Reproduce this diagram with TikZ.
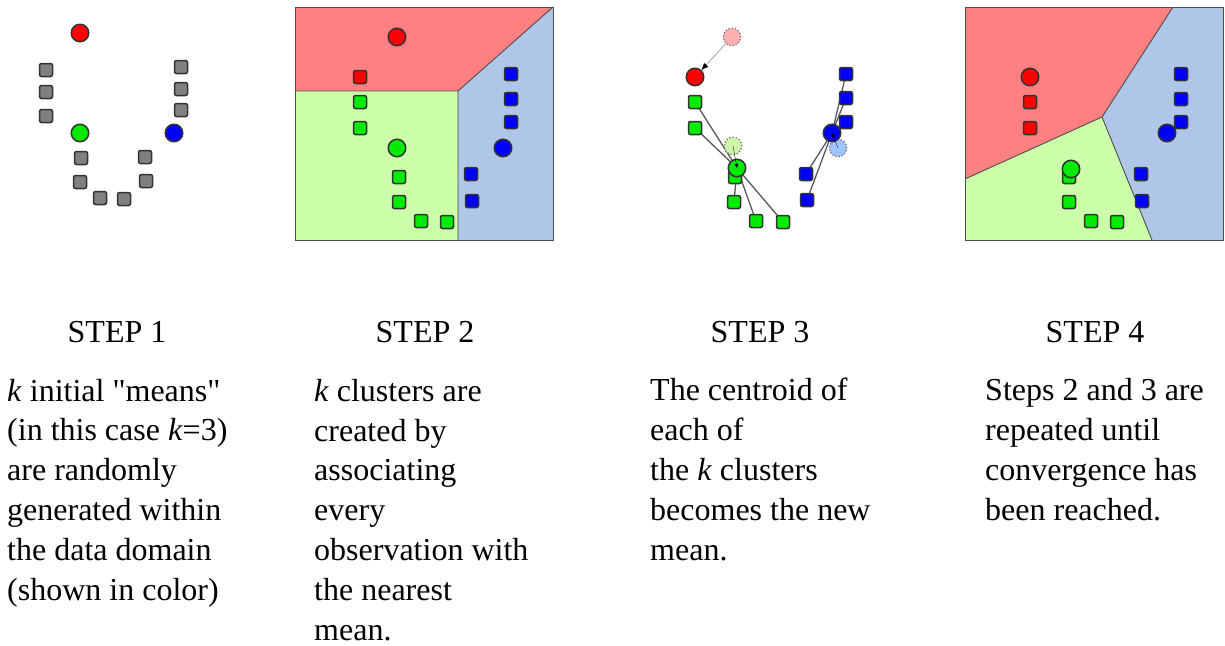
\documentclass[tikz,border=0pt]{standalone}
\usepackage{fontspec}
\setmainfont{Liberation Serif}
\usetikzlibrary{arrows.meta}
\pgfdeclarelayer{background}
\pgfsetlayers{background,main}
\definecolor{ptred}{RGB}{255,0,0}
\definecolor{ptgreen}{RGB}{0,235,0}
\definecolor{ptblue}{RGB}{0,0,255}
\definecolor{ptgray}{RGB}{128,128,128}
\definecolor{oldred}{RGB}{255,176,176}
\definecolor{oldgreen}{RGB}{204,245,170}
\definecolor{oldblue}{RGB}{160,196,255}
\definecolor{regred}{RGB}{255,128,128}
\definecolor{reggreen}{RGB}{204,255,170}
\definecolor{regblue}{RGB}{176,198,232}
\begin{document}
\begin{tikzpicture}[x=1pt,y=-1pt,
    obs/.style={draw=black!80,line width=1.5pt,rounded corners=2pt,minimum size=13pt,inner sep=0pt},
    mean/.style={circle,draw=black!80,line width=1.5pt,minimum size=17.5pt,inner sep=0pt},
    oldmean/.style={mean,draw=black!60,line width=1.2pt,dotted},
    link/.style={draw=black!65,line width=1.3pt},
    region/.style={draw=black!70,line width=0.9pt},
    caption/.style={font=\fontsize{32}{39.8}\selectfont,inner sep=0pt},
    body/.style={caption,align=left,anchor=base west}]
  \useasboundingbox (0,0) rectangle (1225,645);

  % step 1: data points and random means
  \foreach \x/\y [count=\i] in {46/70,46/92,46/116,181/67,181/89,181/110,
      81/158,80/182,100/198,124/199,145/157,146/181}
    \node[obs,fill=ptgray] (a\i) at (\x,\y) {};
  \node[mean,fill=ptred] (ar) at (80,33) {};
  \node[mean,fill=ptgreen] (ag) at (80,133) {};
  \node[mean,fill=ptblue] (ab) at (174,133) {};

  % step 2: first partition
  \fill[regred] (295,7) -- (553,7) -- (458,91) -- (295,91) -- cycle;
  \fill[reggreen] (295,91) -- (458,91) -- (458,240) -- (295,240) -- cycle;
  \fill[regblue] (458,91) -- (553,7) -- (553,240) -- (458,240) -- cycle;
  \draw[region] (295,91) -- (458,91) -- (553,7) (458,91) -- (458,240);
  \draw[region] (295,7) rectangle (553,240);
  \node[obs,fill=ptred] (br1) at (360,77) {};
  \foreach \x/\y [count=\i] in {360/102,360/128,399/177,399/202,421/221,447/222}
    \node[obs,fill=ptgreen] (bg\i) at (\x,\y) {};
  \foreach \x/\y [count=\i] in {511/74,511/99,511/122,471/174,472/201}
    \node[obs,fill=ptblue] (bb\i) at (\x,\y) {};
  \node[mean,fill=ptred] (br) at (397,37) {};
  \node[mean,fill=ptgreen] (bg) at (397,148) {};
  \node[mean,fill=ptblue] (bb) at (503,148) {};

  % step 3: means move to the centroids
  \node[oldmean,fill=oldred] (cr0) at (732,37) {};
  \node[oldmean,fill=oldgreen] (cg0) at (733,146) {};
  \node[oldmean,fill=oldblue] (cb0) at (838,148) {};
  \foreach \x/\y [count=\i] in {695/102,695/128,735/177,734/202,756/221,783/222}
    \node[obs,fill=ptgreen] (cg\i) at (\x,\y) {};
  \foreach \x/\y [count=\i] in {846/74,846/98,846/122,806/174,807/200}
    \node[obs,fill=ptblue] (cb\i) at (\x,\y) {};
  \node[mean,fill=ptred] (cr) at (695,77) {};
  \node[mean,fill=ptgreen] (cg) at (737,168) {};
  \node[mean,fill=ptblue] (cb) at (832,133) {};
  \begin{pgfonlayer}{background}
    \foreach \i in {1,...,6}
      \draw[link] (cg.center) -- (cg\i.center);
    \foreach \i in {1,...,5}
      \draw[link] (cb.center) -- (cb\i.center);
  \end{pgfonlayer}
  \draw[black!40,line width=0.7pt,-{Latex[black,length=7pt,width=6pt]}] (cr0) -- (cr);
  \draw[-{Latex[black,length=4pt,width=4pt]},line width=0.3pt] (cg0.center) -- (cg.center);
  \draw[-{Latex[black,length=4pt,width=4pt]},line width=0.3pt] (cb0.center) -- (cb.center);

  % step 4: converged partition
  \fill[regred] (965,7) -- (1173,7) -- (1102,117) -- (965,179) -- cycle;
  \fill[regblue] (1173,7) -- (1223,7) -- (1223,240) -- (1152,240) -- (1102,117) -- cycle;
  \fill[reggreen] (965,179) -- (1102,117) -- (1152,240) -- (965,240) -- cycle;
  \draw[region] (1173,7) -- (1102,117) -- (965,179) (1102,117) -- (1152,240);
  \draw[region] (965,7) rectangle (1223,240);
  \foreach \x/\y [count=\i] in {1030/102,1030/128}
    \node[obs,fill=ptred] (dr\i) at (\x,\y) {};
  \foreach \x/\y [count=\i] in {1069/177,1069/202,1091/221,1117/222}
    \node[obs,fill=ptgreen] (dg\i) at (\x,\y) {};
  \foreach \x/\y [count=\i] in {1181/74,1181/99,1181/122,1141/174,1142/201}
    \node[obs,fill=ptblue] (db\i) at (\x,\y) {};
  \node[mean,fill=ptred] (dr) at (1030,77) {};
  \node[mean,fill=ptgreen] (dg) at (1071,169) {};
  \node[mean,fill=ptblue] (db) at (1167,133) {};

  % captions (base anchor sits on the last line)
  \node[caption,anchor=base] (s1) at (117,342) {STEP 1};
  \node[caption,anchor=base] (s2) at (425,342) {STEP 2};
  \node[caption,anchor=base] (s3) at (760,342) {STEP 3};
  \node[caption,anchor=base] (s4) at (1095,342) {STEP 4};
  \node[body] (t1) at (7,600) {\textit{k} initial \textquotedbl means\textquotedbl\\(in this case \textit{k}=3)\\are randomly\\generated within\\the data domain\\(shown in color)};
  \node[body] (t2) at (314,640) {\textit{k} clusters are\\created by\\associating\\every\\observation with\\the nearest\\mean.};
  \node[body] (t3) at (650,560) {The centroid of\\each of\\the \textit{k} clusters\\becomes the new\\mean.};
  \node[body] (t4) at (985,520) {Steps 2 and 3 are\\repeated until\\convergence has\\been reached.};
\end{tikzpicture}
\end{document}
